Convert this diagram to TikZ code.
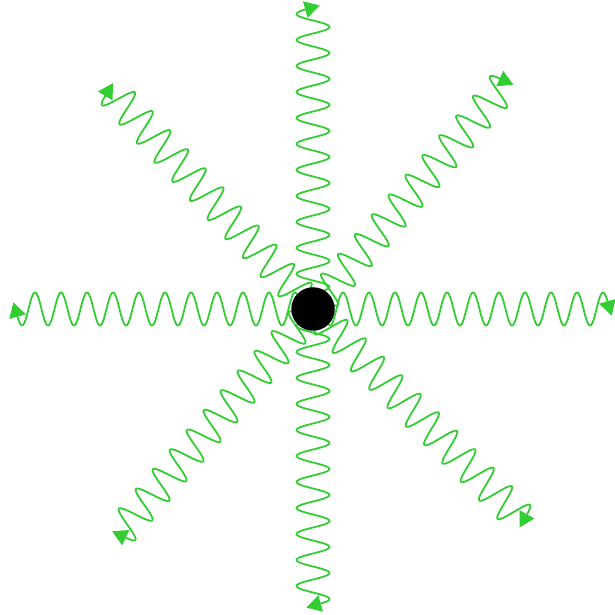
\documentclass[tikz,border=0pt]{standalone}
\definecolor{wavegreen}{RGB}{50,205,50}
\begin{document}
\begin{tikzpicture}[x=1pt,y=1pt,
  wave/.style={draw=wavegreen, line width=1.8pt, line join=round},
  tipfill/.style={fill=wavegreen},
  blackdot/.style={circle, fill=black, minimum size=43.5pt, inner sep=0pt}]
\useasboundingbox (0,0) rectangle (615,615);
\coordinate (c) at (313,306);
\def\A{16.5}
\def\W{26}
\pgfmathsetmacro\K{360/\W}
\foreach \ang/\sp in {0/290, 49.5/292, 90/295, 132.8/293, 180/291, 229.2/291, 270/290, 314.7/292}{
  \begin{scope}[shift={(c)}, rotate=\ang]
    \pgfmathsetmacro\so{\sp-\W/4}
    \pgfmathsetmacro\se{\sp+4.5}
    \pgfmathsetmacro\ye{\A*sin(\K*(\se-\so))}
    \pgfmathsetmacro\t{atan(\A*2*pi/\W*cos(\K*(\se-\so)))}
    \draw[wave] plot[domain=0:\se, samples=320] (\x, {\A*sin(\K*(\x-\so))});
    \fill[tipfill, shift={(\se,\ye)}, rotate=\t] (15,0) -- (0,8.5) -- (0,-8.5) -- cycle;
  \end{scope}
}
\node[blackdot] (dot) at (c) {};
\end{tikzpicture}
\end{document}
